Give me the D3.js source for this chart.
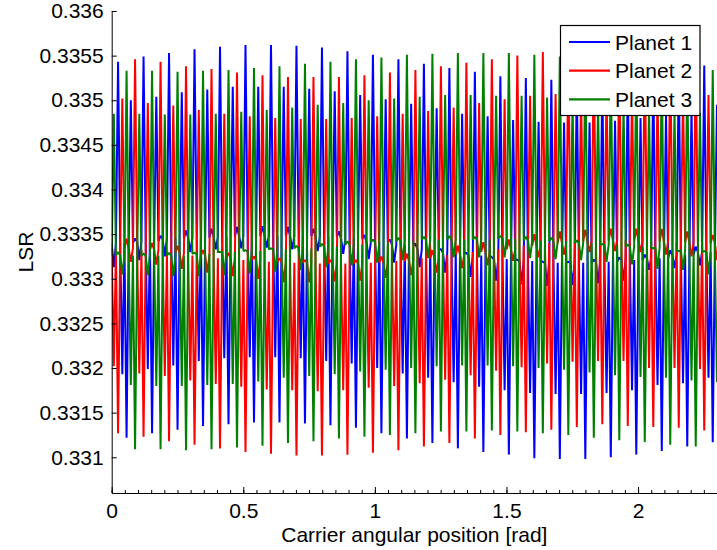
<!DOCTYPE html>
<html>
<head>
<meta charset="utf-8">
<script src="https://cdn.jsdelivr.net/npm/d3@7"></script>
<style>
  body { margin: 0; background: #fff; }
  text { font-family: "Liberation Sans", Arial, Helvetica, sans-serif; }
</style>
</head>
<body>
<svg id="chart" width="717" height="550"></svg>
<script>
// Load sharing ratio of each planet, sampled every sampleStep rad of carrier
// rotation. Samples alternate: running level, mesh-switching instant, level, ...
// One row of planetN = the six switching instants of one mesh period.
const sampleStep = 0.00807;   // rad

const planet1 = [
  0.33313, 0.33543, 0.33193, 0.33122, 0.33500, 0.33345,
  0.33321, 0.33549, 0.33199, 0.33127, 0.33504, 0.33348,
  0.33325, 0.33553, 0.33203, 0.33131, 0.33509, 0.33354,
  0.33330, 0.33557, 0.33208, 0.33135, 0.33512, 0.33356,
  0.33333, 0.33560, 0.33211, 0.33137, 0.33515, 0.33358,
  0.33334, 0.33562, 0.33212, 0.33139, 0.33515, 0.33359,
  0.33335, 0.33562, 0.33212, 0.33139, 0.33515, 0.33358,
  0.33333, 0.33561, 0.33211, 0.33138, 0.33513, 0.33356,
  0.33331, 0.33559, 0.33208, 0.33136, 0.33510, 0.33353,
  0.33328, 0.33555, 0.33205, 0.33133, 0.33506, 0.33349,
  0.33322, 0.33551, 0.33200, 0.33127, 0.33501, 0.33344,
  0.33318, 0.33546, 0.33194, 0.33121, 0.33496, 0.33339,
  0.33313, 0.33541, 0.33189, 0.33116, 0.33491, 0.33333,
  0.33307, 0.33536, 0.33184, 0.33110, 0.33485, 0.33329,
  0.33302, 0.33532, 0.33179, 0.33106, 0.33482, 0.33324,
  0.33298, 0.33527, 0.33175, 0.33103, 0.33478, 0.33321,
  0.33294, 0.33525, 0.33172, 0.33099, 0.33476, 0.33319,
  0.33292, 0.33523, 0.33171, 0.33098, 0.33475, 0.33319,
  0.33293, 0.33523, 0.33171, 0.33098, 0.33475, 0.33321,
  0.33295, 0.33524, 0.33172, 0.33100, 0.33477, 0.33324,
  0.33298, 0.33527, 0.33175, 0.33103, 0.33480, 0.33327,
  0.33310, 0.33532, 0.33181, 0.33107, 0.33484, 0.33332,
  0.33312, 0.33536, 0.33183, 0.33112, 0.33489, 0.33336,
  0.33315, 0.33539, 0.33189, 0.33117, 0.33495, 0.33338
];

const planet2 = [
  0.33202, 0.33127, 0.33502, 0.33345, 0.33319, 0.33546,
  0.33194, 0.33123, 0.33497, 0.33340, 0.33316, 0.33543,
  0.33191, 0.33118, 0.33494, 0.33337, 0.33311, 0.33538,
  0.33186, 0.33114, 0.33489, 0.33332, 0.33307, 0.33535,
  0.33182, 0.33110, 0.33485, 0.33329, 0.33303, 0.33531,
  0.33179, 0.33106, 0.33482, 0.33325, 0.33300, 0.33528,
  0.33176, 0.33104, 0.33480, 0.33323, 0.33296, 0.33526,
  0.33175, 0.33102, 0.33479, 0.33321, 0.33296, 0.33526,
  0.33174, 0.33102, 0.33479, 0.33321, 0.33297, 0.33526,
  0.33175, 0.33103, 0.33480, 0.33321, 0.33298, 0.33528,
  0.33178, 0.33105, 0.33482, 0.33325, 0.33301, 0.33531,
  0.33180, 0.33108, 0.33485, 0.33328, 0.33304, 0.33534,
  0.33183, 0.33112, 0.33488, 0.33332, 0.33307, 0.33538,
  0.33187, 0.33116, 0.33492, 0.33337, 0.33312, 0.33542,
  0.33192, 0.33121, 0.33497, 0.33341, 0.33315, 0.33546,
  0.33197, 0.33125, 0.33501, 0.33344, 0.33320, 0.33550,
  0.33201, 0.33128, 0.33505, 0.33350, 0.33324, 0.33554,
  0.33205, 0.33131, 0.33507, 0.33353, 0.33327, 0.33556,
  0.33207, 0.33134, 0.33508, 0.33355, 0.33330, 0.33557,
  0.33208, 0.33137, 0.33509, 0.33356, 0.33331, 0.33557,
  0.33208, 0.33135, 0.33509, 0.33356, 0.33330, 0.33556,
  0.33200, 0.33134, 0.33508, 0.33356, 0.33327, 0.33554,
  0.33200, 0.33133, 0.33507, 0.33353, 0.33325, 0.33552,
  0.33199, 0.33130, 0.33506, 0.33349, 0.33321, 0.33550
];

const planet3 = [
  0.33485, 0.33330, 0.33305, 0.33533, 0.33181, 0.33109,
  0.33485, 0.33328, 0.33304, 0.33533, 0.33180, 0.33109,
  0.33484, 0.33329, 0.33303, 0.33532, 0.33180, 0.33108,
  0.33484, 0.33329, 0.33303, 0.33533, 0.33181, 0.33109,
  0.33485, 0.33330, 0.33304, 0.33534, 0.33182, 0.33111,
  0.33487, 0.33332, 0.33306, 0.33536, 0.33185, 0.33113,
  0.33489, 0.33334, 0.33308, 0.33538, 0.33189, 0.33116,
  0.33492, 0.33337, 0.33310, 0.33541, 0.33191, 0.33118,
  0.33495, 0.33339, 0.33313, 0.33543, 0.33193, 0.33121,
  0.33497, 0.33342, 0.33315, 0.33546, 0.33196, 0.33123,
  0.33500, 0.33344, 0.33318, 0.33548, 0.33198, 0.33125,
  0.33502, 0.33346, 0.33321, 0.33551, 0.33200, 0.33127,
  0.33504, 0.33347, 0.33323, 0.33552, 0.33202, 0.33129,
  0.33506, 0.33348, 0.33324, 0.33553, 0.33203, 0.33129,
  0.33506, 0.33347, 0.33324, 0.33553, 0.33203, 0.33130,
  0.33505, 0.33348, 0.33324, 0.33553, 0.33202, 0.33129,
  0.33505, 0.33347, 0.33323, 0.33551, 0.33200, 0.33127,
  0.33503, 0.33346, 0.33322, 0.33549, 0.33198, 0.33125,
  0.33500, 0.33343, 0.33321, 0.33547, 0.33195, 0.33122,
  0.33497, 0.33339, 0.33319, 0.33544, 0.33192, 0.33119,
  0.33494, 0.33338, 0.33316, 0.33541, 0.33190, 0.33117,
  0.33490, 0.33334, 0.33311, 0.33537, 0.33189, 0.33114,
  0.33488, 0.33331, 0.33310, 0.33535, 0.33186, 0.33112,
  0.33486, 0.33331, 0.33305, 0.33534, 0.33184, 0.33112
];

// Running level of each planet between switching instants, one per mesh period
const level1 = [0.33340, 0.33342, 0.33345, 0.33346, 0.33347, 0.33348, 0.33348, 0.33348,
  0.33347, 0.33345, 0.33341, 0.33338, 0.33333, 0.33329, 0.33326, 0.33322,
  0.33320, 0.33318, 0.33318, 0.33319, 0.33321, 0.33323, 0.33327, 0.33330];
const level2 = [0.33334, 0.33332, 0.33329, 0.33326, 0.33323, 0.33321, 0.33319, 0.33318,
  0.33317, 0.33317, 0.33318, 0.33320, 0.33323, 0.33327, 0.33330, 0.33333,
  0.33337, 0.33340, 0.33342, 0.33343, 0.33343, 0.33342, 0.33341, 0.33340];
const level3 = [0.33326, 0.33326, 0.33326, 0.33328, 0.33330, 0.33331, 0.33333, 0.33334,
  0.33336, 0.33338, 0.33341, 0.33342, 0.33344, 0.33344, 0.33344, 0.33345,
  0.33343, 0.33342, 0.33340, 0.33338, 0.33336, 0.33335, 0.33332, 0.33330];

const seriesNames = ["Planet 1", "Planet 2", "Planet 3"];
const seriesColors = ["#0000ff", "#ff0000", "#008000"];

const xTicks = [0, 0.5, 1, 1.5, 2];
const xTickLabels = ["0", "0.5", "1", "1.5", "2"];
const xMinorTicks = d3.range(0, 2.3001, 0.05);
const yTicks = [0.331, 0.3315, 0.332, 0.3325, 0.333, 0.3335, 0.334, 0.3345, 0.335, 0.3355, 0.336];
const yTickLabels = ["0.331", "0.3315", "0.332", "0.3325", "0.333", "0.3335", "0.334", "0.3345", "0.335", "0.3355", "0.336"];

const plot = { left: 111.7, right: 717, top: 11, bottom: 493 };
const fontSize = 21;

const svg = d3.select("#chart");

const x = d3.scaleLinear().domain([0, 2.3]).range([plot.left, plot.right]);
const y = d3.scaleLinear().domain([0.3306, 0.336]).range([plot.bottom, plot.top]);

svg.append("defs").append("clipPath").attr("id", "plot-clip")
  .append("rect")
  .attr("x", plot.left).attr("y", plot.top - 2)
  .attr("width", plot.right - plot.left).attr("height", plot.bottom - plot.top + 2);

// Interleave running levels and switching values into one sampled trace.
function samples(values, levels) {
  const out = [];
  values.forEach((v, i) => {
    out.push(levels[Math.floor(i / 6)], v);
  });
  out.push(levels[levels.length - 1]);
  return out;
}

const line = d3.line()
  .x((d, i) => x(i * sampleStep))
  .y(d => y(d));

const lines = svg.append("g").attr("clip-path", "url(#plot-clip)");
[[planet1, level1], [planet2, level2], [planet3, level3]].forEach(([vals, lv], i) => {
  lines.append("path")
    .datum(samples(vals, lv))
    .attr("d", line)
    .attr("fill", "none")
    .attr("stroke", seriesColors[i])
    .attr("stroke-width", 2)
    .attr("stroke-linejoin", "miter")
    .attr("stroke-miterlimit", 1.5);
});

// Axes: ticks pointing inward
const yAxis = d3.axisLeft(y)
  .tickValues(yTicks)
  .tickFormat((d, i) => yTickLabels[i])
  .tickSizeInner(-5).tickSizeOuter(0).tickPadding(8);
svg.append("g").attr("transform", `translate(${plot.left},0)`).call(yAxis);

const xMinor = d3.axisBottom(x)
  .tickValues(xMinorTicks).tickFormat("")
  .tickSizeInner(-3).tickSizeOuter(0);
svg.append("g").attr("transform", `translate(0,${plot.bottom})`).call(xMinor)
  .select(".domain").remove();

const xAxis = d3.axisBottom(x)
  .tickValues(xTicks)
  .tickFormat((d, i) => xTickLabels[i])
  .tickSizeInner(-6).tickSizeOuter(0).tickPadding(10);
svg.append("g").attr("transform", `translate(0,${plot.bottom})`).call(xAxis);

svg.selectAll(".tick text")
  .attr("font-size", fontSize)
  .attr("font-family", "'Liberation Sans', Arial, sans-serif")
  .attr("fill", "#000");
svg.selectAll(".domain, .tick line").attr("stroke", "#000").attr("stroke-width", 1);

svg.append("text")
  .attr("x", (plot.left + plot.right) / 2)
  .attr("y", 542)
  .attr("text-anchor", "middle")
  .attr("font-size", fontSize)
  .text("Carrier angular position [rad]");

svg.append("text")
  .attr("transform", `translate(33,${(plot.top + plot.bottom) / 2}) rotate(-90)`)
  .attr("text-anchor", "middle")
  .attr("font-size", fontSize)
  .text("LSR");

// Legend
const legend = svg.append("g");
legend.append("rect")
  .attr("x", 560.5).attr("y", 25.5)
  .attr("width", 139.5).attr("height", 90)
  .attr("fill", "#fff").attr("stroke", "#000").attr("stroke-width", 1.2);
seriesNames.forEach((name, i) => {
  const ly = 42 + i * 28.7;
  legend.append("line")
    .attr("x1", 569).attr("x2", 610)
    .attr("y1", ly).attr("y2", ly)
    .attr("stroke", seriesColors[i]).attr("stroke-width", 2.2);
  legend.append("text")
    .attr("x", 615).attr("y", ly + 7.5)
    .attr("font-size", fontSize)
    .text(name);
});
</script>
</body>
</html>
